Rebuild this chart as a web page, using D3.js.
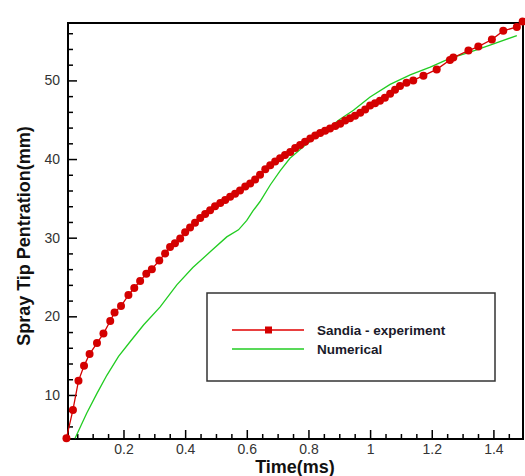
<!DOCTYPE html>
<html>
<head>
<meta charset="utf-8">
<script src="https://cdn.jsdelivr.net/npm/d3@7"></script>
<style>
  body { margin: 0; background: #fff; }
  svg { display: block; font-family: "Liberation Sans", Arial, sans-serif; }
  .tick text { fill: #333; font-size: 14px; }
</style>
</head>
<body>
<svg width="525" height="476"></svg>
<script>
// Sandia experiment (time ms, penetration mm)
var expTime = [0.015, 0.036, 0.054, 0.072, 0.090, 0.114, 0.135, 0.157, 0.171, 0.192,
  0.216, 0.235, 0.254, 0.274, 0.292, 0.316, 0.335, 0.351, 0.367, 0.384,
  0.400, 0.416, 0.432, 0.449, 0.465, 0.481, 0.497, 0.514, 0.530, 0.546,
  0.562, 0.578, 0.595, 0.611, 0.627, 0.643, 0.660, 0.676, 0.692, 0.708,
  0.724, 0.741, 0.757, 0.773, 0.789, 0.806, 0.822, 0.838, 0.854, 0.870,
  0.887, 0.903, 0.919, 0.935, 0.951, 0.968, 0.984, 1.000, 1.016, 1.032,
  1.048, 1.065, 1.081, 1.097, 1.118, 1.140, 1.173, 1.216, 1.259, 1.270,
  1.319, 1.351, 1.395, 1.432, 1.476, 1.495];
var expPen = [4.5, 8.1, 11.8, 13.7, 15.2, 16.6, 17.8, 19.4, 20.5, 21.3,
  22.7, 23.6, 24.5, 25.4, 26.0, 27.1, 28.0, 28.8, 29.3, 29.9,
  30.7, 31.3, 31.9, 32.5, 33.0, 33.5, 34.0, 34.4, 34.8, 35.2,
  35.6, 36.0, 36.5, 36.9, 37.4, 38.0, 38.7, 39.2, 39.7, 40.1,
  40.5, 40.9, 41.4, 41.8, 42.2, 42.6, 43.0, 43.3, 43.6, 43.9,
  44.2, 44.5, 44.9, 45.2, 45.5, 45.9, 46.3, 46.8, 47.1, 47.4,
  47.8, 48.3, 48.8, 49.3, 49.7, 50.0, 50.6, 51.4, 52.6, 52.9,
  53.8, 54.3, 55.2, 56.3, 56.8, 57.5];

// Numerical result
var numTime = [0.043, 0.081, 0.114, 0.146, 0.184, 0.222, 0.265, 0.319, 0.373, 0.425,
  0.484, 0.535, 0.573, 0.600, 0.620, 0.643, 0.676, 0.708, 0.740, 0.790,
  0.850, 0.900, 0.946, 1.000, 1.065, 1.130, 1.195, 1.259, 1.324, 1.389, 1.476];
var numPen = [4.5, 7.7, 10.2, 12.5, 14.9, 16.8, 18.9, 21.2, 24.0, 26.2,
  28.3, 30.1, 31.0, 32.2, 33.4, 34.6, 36.7, 38.5, 40.1, 41.8,
  43.5, 45.0, 46.2, 47.9, 49.5, 50.7, 51.7, 52.8, 53.6, 54.5, 55.7];

var xTicks = [0.2, 0.4, 0.6, 0.8, 1, 1.2, 1.4];
var xMinor = [0.05, 0.1, 0.15, 0.25, 0.3, 0.35, 0.45, 0.5, 0.55, 0.65, 0.7, 0.75,
  0.85, 0.9, 0.95, 1.05, 1.1, 1.15, 1.25, 1.3, 1.35, 1.45];
var yTicks = [10, 20, 30, 40, 50];
var yMinor = [6, 8, 12, 14, 16, 18, 22, 24, 26, 28, 32, 34, 36, 38, 42, 44, 46, 48, 52, 54, 56];

var seriesNames = ["Sandia - experiment", "Numerical"];

var plot = {left: 68, right: 523, top: 23, bottom: 439};

var svg = d3.select("svg");

var x = d3.scaleLinear().domain([0.02, 1.496]).range([plot.left, plot.right]);
var y = d3.scaleLinear().domain([4.4, 57.3]).range([plot.bottom, plot.top]);

function styleTicks(g) {
  g.select(".domain").remove();
  g.selectAll("line").attr("stroke", "#000").attr("stroke-width", 1.5);
}

// minor ticks
svg.append("g")
    .attr("transform", "translate(0," + plot.bottom + ")")
    .call(d3.axisBottom(x).tickValues(xMinor).tickSize(-5).tickFormat(""))
    .call(styleTicks);

svg.append("g")
    .attr("transform", "translate(" + plot.left + ",0)")
    .call(d3.axisLeft(y).tickValues(yMinor).tickSize(-5).tickFormat(""))
    .call(styleTicks);

// major ticks
svg.append("g")
    .attr("transform", "translate(0," + plot.bottom + ")")
    .call(d3.axisBottom(x).tickValues(xTicks).tickSize(-9).tickPadding(5).tickFormat(d3.format("")))
    .call(styleTicks);

svg.append("g")
    .attr("transform", "translate(" + plot.left + ",0)")
    .call(d3.axisLeft(y).tickValues(yTicks).tickSize(-9).tickPadding(8))
    .call(styleTicks);

// frame
svg.append("rect")
    .attr("x", plot.left).attr("y", plot.top)
    .attr("width", plot.right - plot.left).attr("height", plot.bottom - plot.top)
    .attr("fill", "none").attr("stroke", "#000").attr("stroke-width", 2);

// axis titles
svg.append("text")
    .attr("x", 295).attr("y", 473)
    .attr("text-anchor", "middle")
    .attr("font-weight", "bold").attr("font-size", 18)
    .attr("fill", "#111")
    .text("Time(ms)");

svg.append("text")
    .attr("transform", "translate(30,236) rotate(-90)")
    .attr("text-anchor", "middle")
    .attr("font-weight", "bold").attr("font-size", 18)
    .attr("fill", "#111")
    .text("Spray Tip Pentration(mm)");

var line = d3.line()
    .x(function(d) { return x(d[0]); })
    .y(function(d) { return y(d[1]); });

var numData = d3.zip(numTime, numPen);
var expData = d3.zip(expTime, expPen);

svg.append("path")
    .datum(numData)
    .attr("d", line)
    .attr("fill", "none")
    .attr("stroke", "#22cc22")
    .attr("stroke-width", 1.3);

svg.append("path")
    .datum(expData)
    .attr("d", line)
    .attr("fill", "none")
    .attr("stroke", "#d40000")
    .attr("stroke-width", 1.3);

svg.append("g")
    .selectAll("circle")
    .data(expData)
    .enter().append("circle")
      .attr("cx", function(d) { return x(d[0]); })
      .attr("cy", function(d) { return y(d[1]); })
      .attr("r", 4)
      .attr("fill", "#d40000");

// legend
var legend = svg.append("g");
legend.append("rect")
    .attr("x", 207).attr("y", 293)
    .attr("width", 288).attr("height", 88)
    .attr("fill", "#fff").attr("stroke", "#333").attr("stroke-width", 1.5);

var legColors = ["#e00000", "#22cc22"];
var legItems = legend.selectAll("g.item")
    .data(seriesNames)
    .enter().append("g")
      .attr("class", "item")
      .attr("transform", function(d, i) { return "translate(0," + (330 + i * 19) + ")"; });

legItems.append("line")
    .attr("x1", 232).attr("x2", 304)
    .attr("stroke", function(d, i) { return legColors[i]; })
    .attr("stroke-width", 1.3);

legItems.filter(function(d, i) { return i === 0; })
  .append("rect")
    .attr("x", 265).attr("y", -3.5)
    .attr("width", 7).attr("height", 7)
    .attr("fill", "#d40000");

legItems.append("text")
    .attr("x", 317).attr("dy", "0.35em")
    .attr("font-weight", "bold").attr("font-size", 13.5)
    .attr("fill", "#1a1a2a")
    .text(function(d) { return d; });
</script>
</body>
</html>
